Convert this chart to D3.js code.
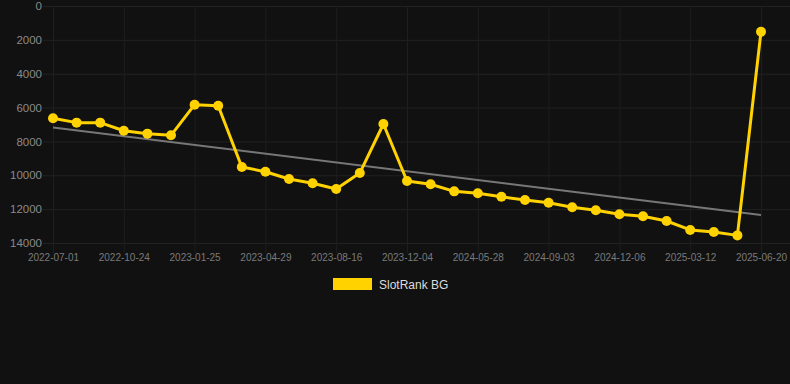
<!DOCTYPE html>
<html>
<head>
<meta charset="utf-8">
<script src="https://cdn.jsdelivr.net/npm/d3@7"></script>
<style>
  html, body { margin: 0; padding: 0; background: #111111; }
  svg { display: block; }
  text { font-family: "Liberation Sans", Arial, Helvetica, sans-serif; }
</style>
</head>
<body>
<svg id="chart" width="790" height="384"></svg>
<script>
const categories = [
  "2022-07-01", "2022-08-08", "2022-09-15",
  "2022-10-24", "2022-11-24", "2022-12-25",
  "2023-01-25", "2023-02-25", "2023-03-28",
  "2023-04-29", "2023-06-04", "2023-07-10",
  "2023-08-16", "2023-09-22", "2023-10-28",
  "2023-12-04", "2024-01-30", "2024-03-28",
  "2024-05-28", "2024-06-30", "2024-08-01",
  "2024-09-03", "2024-10-04", "2024-11-04",
  "2024-12-06", "2025-01-07", "2025-02-08",
  "2025-03-12", "2025-04-15", "2025-05-18",
  "2025-06-20"
];
const rankValues = [
  6630, 6890, 6890, 7370, 7540, 7640,
  5830, 5890, 9510, 9790, 10220, 10470,
  10810, 9870, 6970, 10340, 10530, 10950,
  11060, 11270, 11460, 11620, 11890, 12070,
  12300, 12420, 12700, 13230, 13350, 13550,
  1520
];
const yTicks = [0, 2000, 4000, 6000, 8000, 10000, 12000, 14000];
const xTickLabels = ["2022-07-01", "2022-10-24", "2023-01-25", "2023-04-29", "2023-08-16",
  "2023-12-04", "2024-05-28", "2024-09-03", "2024-12-06", "2025-03-12", "2025-06-20"];
const seriesName = "SlotRank BG";

const W = 790, H = 384;
const plotLeft = 53, plotRight = 761, gridLeft = 43, gridRight = 790;
const plotTop = 6, plotBottom = 243;
const yellow = "#FFD200";

const svg = d3.select("#chart");
svg.append("rect").attr("width", W).attr("height", H).attr("fill", "#111111");

const x = d3.scalePoint().domain(categories).range([plotLeft, plotRight]);
const y = d3.scaleLinear().domain([0, 14000]).range([plotTop, plotBottom]);

// horizontal grid
svg.append("g").selectAll("line").data(yTicks).join("line")
  .attr("x1", gridLeft).attr("x2", gridRight)
  .attr("y1", d => y(d) + 0.5).attr("y2", d => y(d) + 0.5)
  .attr("stroke", "#222222").attr("stroke-width", 1);

// vertical grid
svg.append("g").selectAll("line").data(xTickLabels).join("line")
  .attr("x1", d => x(d) + 0.5).attr("x2", d => x(d) + 0.5)
  .attr("y1", plotTop).attr("y2", plotBottom + 10)
  .attr("stroke", "#1e1e1e").attr("stroke-width", 1);

// y axis
const yAxis = svg.append("g").attr("transform", `translate(${gridLeft - 1},0)`)
  .call(d3.axisLeft(y).tickValues(yTicks).tickSize(0).tickPadding(0).tickFormat(d3.format("d")));
yAxis.select(".domain").remove();
yAxis.selectAll("text").attr("fill", "#8a8a8a").style("font-size", "11.5px");

// x axis
const xAxis = svg.append("g").attr("transform", `translate(0,${plotBottom + 8})`)
  .call(d3.axisBottom(x).tickValues(xTickLabels).tickSize(0).tickPadding(3));
xAxis.select(".domain").remove();
xAxis.selectAll("text").attr("fill", "#7a7a7a").style("font-size", "10px");

// trend line (least squares on index)
const n = rankValues.length;
const mx = d3.mean(rankValues, (d, i) => i);
const my = d3.mean(rankValues);
let num = 0, den = 0;
rankValues.forEach((v, i) => { num += (i - mx) * (v - my); den += (i - mx) * (i - mx); });
const slope = num / den, intercept = my - slope * mx;
const trend = [0, n - 1].map(i => ({ c: categories[i], v: intercept + slope * i }));
svg.append("path").datum(trend)
  .attr("d", d3.line().x(d => x(d.c)).y(d => y(d.v)))
  .attr("fill", "none").attr("stroke", "#777777").attr("stroke-width", 2);

// series line
const data = categories.map((c, i) => ({ c, v: rankValues[i] }));
svg.append("path").datum(data)
  .attr("d", d3.line().x(d => x(d.c)).y(d => y(d.v)))
  .attr("fill", "none").attr("stroke", yellow).attr("stroke-width", 3)
  .attr("stroke-linejoin", "round");

svg.append("g").selectAll("circle").data(data).join("circle")
  .attr("cx", d => x(d.c)).attr("cy", d => y(d.v)).attr("r", 5)
  .attr("fill", yellow);

// legend
const legend = svg.append("g");
legend.append("rect").attr("x", 333).attr("y", 278).attr("width", 39).attr("height", 12)
  .attr("fill", yellow);
legend.append("text").attr("x", 379).attr("y", 288.5).text(seriesName)
  .attr("fill", "#dddddd").style("font-size", "12px");
</script>
</body>
</html>
